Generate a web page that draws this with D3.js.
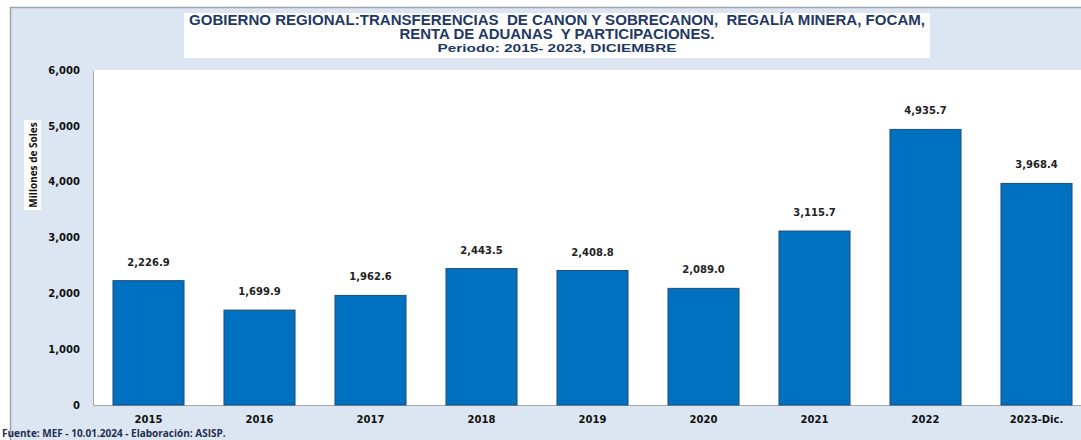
<!DOCTYPE html>
<html>
<head>
<meta charset="utf-8">
<script src="https://cdn.jsdelivr.net/npm/d3@7"></script>
<style>
  body { margin: 0; background: #fff; }
  text { font-family: "DejaVu Sans", Verdana, sans-serif; }
</style>
</head>
<body>
<div id="chart"></div>
<script>
var width = 1081, height = 440;

var categories = ['2015', '2016', '2017', '2018', '2019', '2020', '2021', '2022', '2023-Dic.'];
var values = [2226.9, 1699.9, 1962.6, 2443.5, 2408.8, 2089.0, 3115.7, 4935.7, 3968.4];
var yTicks = [0, 1000, 2000, 3000, 4000, 5000, 6000];
var titleLines = [
  'GOBIERNO REGIONAL:TRANSFERENCIAS  DE CANON Y SOBRECANON,  REGALÍA MINERA, FOCAM,',
  'RENTA DE ADUANAS  Y PARTICIPACIONES.',
  'Periodo: 2015- 2023, DICIEMBRE'
];
var yTitle = 'Millones de Soles';
var source = 'Fuente: MEF - 10.01.2024 - Elaboración: ASISP.';

var plot = {left: 93, right: 1092, top: 70, bottom: 405};

var svg = d3.select('#chart').append('svg')
  .attr('width', width)
  .attr('height', height);

// light blue frame
svg.append('rect')
  .attr('x', 10).attr('y', 7)
  .attr('width', width - 10).attr('height', height - 7)
  .attr('fill', '#dce6f2');
svg.append('path')
  .attr('d', 'M10.5,' + height + 'V7.5H' + width)
  .attr('fill', 'none')
  .attr('stroke', '#9aa4ae')
  .attr('stroke-width', 1.5);

// title box
svg.append('rect')
  .attr('x', 184).attr('y', 13)
  .attr('width', 746).attr('height', 45)
  .attr('fill', '#fff');

var titleColor = '#1f3864';
var titleStyle = [
  {y: 25, size: 14, len: 736},
  {y: 39, size: 14, len: 315},
  {y: 52, size: 11.5, len: 239}
];
svg.selectAll('text.title')
  .data(titleLines).enter()
  .append('text')
  .classed('title', true)
  .attr('x', 557)
  .attr('y', function(d, i) { return titleStyle[i].y; })
  .attr('text-anchor', 'middle')
  .attr('textLength', function(d, i) { return titleStyle[i].len; })
  .attr('lengthAdjust', 'spacingAndGlyphs')
  .style('white-space', 'pre')
  .style('font-family', '"Liberation Sans", Arial, sans-serif')
  .style('font-weight', 'bold')
  .style('font-size', function(d, i) { return titleStyle[i].size + 'px'; })
  .attr('fill', titleColor)
  .text(function(d) { return d; });

// plot area
svg.append('rect')
  .attr('x', plot.left).attr('y', plot.top)
  .attr('width', plot.right - plot.left).attr('height', plot.bottom - plot.top)
  .attr('fill', '#fff');

var x = d3.scaleBand()
  .domain(categories)
  .range([plot.left, plot.right])
  .paddingInner(0.36)
  .paddingOuter(0.18);

var y = d3.scaleLinear()
  .domain([0, 6000])
  .range([plot.bottom, plot.top]);

// axes
var yAxis = svg.append('g')
  .attr('transform', 'translate(' + plot.left + ',0)')
  .call(d3.axisLeft(y).tickValues(yTicks).tickSize(0).tickPadding(13).tickFormat(d3.format(',')));
yAxis.select('.domain').attr('stroke', '#a6a6a6');
yAxis.selectAll('text')
  .style('font-family', '"DejaVu Sans", Verdana, sans-serif')
  .style('font-weight', 'bold')
  .style('font-size', '10px')
  .attr('fill', '#111');

var xAxis = svg.append('g')
  .attr('transform', 'translate(0,' + plot.bottom + ')')
  .call(d3.axisBottom(x).tickSize(0).tickPadding(11));
xAxis.select('.domain').attr('stroke', '#a6a6a6');
xAxis.selectAll('text')
  .style('font-family', '"DejaVu Sans", Verdana, sans-serif')
  .style('font-weight', 'bold')
  .style('font-size', '10px')
  .attr('fill', '#111');

// bars
svg.selectAll('rect.bar')
  .data(values).enter()
  .append('rect')
  .classed('bar', true)
  .attr('x', function(d, i) { return x(categories[i]); })
  .attr('y', function(d) { return y(d); })
  .attr('width', x.bandwidth())
  .attr('height', function(d) { return plot.bottom - y(d); })
  .attr('fill', '#0070c0')
  .attr('stroke', '#1f4e79')
  .attr('stroke-width', 1);

svg.selectAll('text.value')
  .data(values).enter()
  .append('text')
  .classed('value', true)
  .attr('x', function(d, i) { return x(categories[i]) + x.bandwidth() / 2; })
  .attr('y', function(d) { return y(d) - 15; })
  .attr('text-anchor', 'middle')
  .style('font-weight', 'bold')
  .style('font-size', '10px')
  .attr('fill', '#222')
  .text(function(d) { return d3.format(',.1f')(d); });

// y title with white box
var yt = svg.append('g').attr('transform', 'translate(33,165) rotate(-90)');
yt.append('rect')
  .attr('x', -45).attr('y', -9)
  .attr('width', 90).attr('height', 17)
  .attr('fill', '#fff');
yt.append('text')
  .attr('x', 0).attr('y', 4)
  .attr('text-anchor', 'middle')
  .style('font-family', '"Open Sans", sans-serif')
  .style('font-weight', 'bold')
  .style('font-size', '10px')
  .attr('fill', '#111')
  .text(yTitle);

// source
svg.append('text')
  .attr('x', 2).attr('y', 437)
  .style('font-family', '"Open Sans", sans-serif')
  .style('font-weight', 'bold')
  .style('font-size', '10px')
  .attr('fill', '#1f2f4f')
  .text(source);
</script>
</body>
</html>
